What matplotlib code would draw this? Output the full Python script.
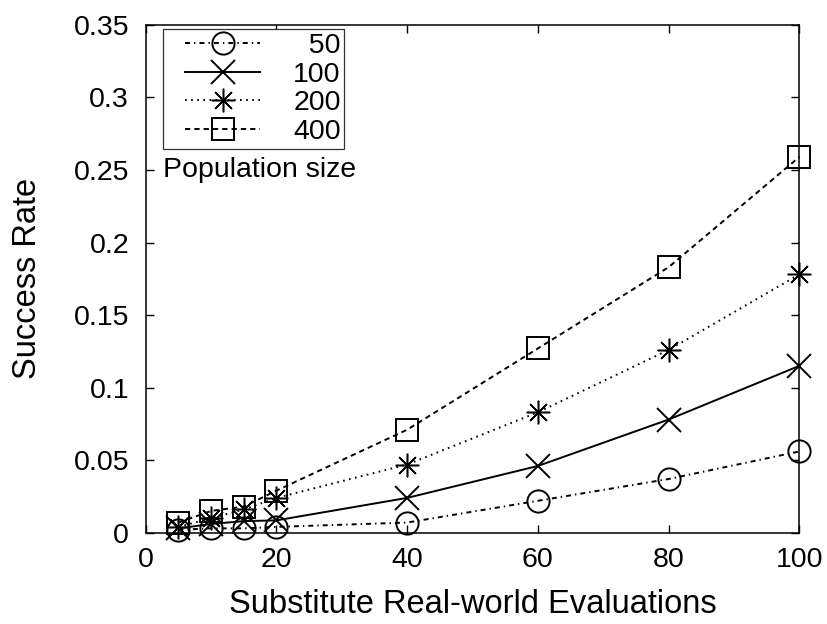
import matplotlib
matplotlib.use("Agg")
import matplotlib.pyplot as plt
from matplotlib.legend_handler import HandlerLine2D

plt.rcParams['font.family'] = ['Liberation Sans', 'DejaVu Sans']
plt.rcParams['lines.scale_dashes'] = False

# Number of substitute real-world evaluations
evaluations = [5, 10, 15, 20, 40, 60, 80, 100]

# Success rate per population size
rate_pop50 = [0.002, 0.003, 0.003, 0.004, 0.007, 0.022, 0.037, 0.056]
rate_pop100 = [0.003, 0.006, 0.008, 0.0085, 0.024, 0.046, 0.078, 0.115]
rate_pop200 = [0.004, 0.010, 0.016, 0.024, 0.047, 0.083, 0.126, 0.178]
rate_pop400 = [0.007, 0.015, 0.018, 0.029, 0.071, 0.127, 0.183, 0.259]

series_labels = ["  50", "100", "200", "400"]
x_ticks = [0, 20, 40, 60, 80, 100]
y_ticks = [0, 0.05, 0.1, 0.15, 0.2, 0.25, 0.3, 0.35]
y_tick_labels = ["0", "0.05", "0.1", "0.15", "0.2", "0.25", "0.3", "0.35"]

TICK_FS = 20.5
LABEL_FS = 23.5

fig = plt.figure(figsize=(8.27, 6.24), dpi=100)
ax = fig.add_axes([0.1762, 0.1463, 0.7903, 0.8137])

lw = 1.4
styles = [
    dict(marker='o', ms=16, mew=1.4, linestyle=(0, (3.6, 2.9, 1.0, 2.9))),
    dict(marker='x', ms=17, mew=1.4, linestyle='-'),
    dict(marker=(8, 2, 0), ms=17, mew=1.1, linestyle=(0, (1.2, 3.2))),
    dict(marker='s', ms=16.5, mew=1.4, linestyle=(0, (3.8, 2.9))),
]
all_rates = [rate_pop50, rate_pop100, rate_pop200, rate_pop400]

for rates, label, st in zip(all_rates, series_labels, styles):
    ax.plot(evaluations, rates, color='black', lw=lw,
            mfc='none', mec='black', label=label, clip_on=False,
            zorder=3, **st)

ax.set_xlim(0, 100)
ax.set_ylim(0, 0.35)
ax.set_xticks(x_ticks)
ax.set_xticklabels([str(v) for v in x_ticks])
ax.set_yticks(y_ticks)
ax.set_yticklabels(y_tick_labels)

ax.tick_params(axis='both', which='both', direction='in', length=5.5,
               width=1.0, labelsize=TICK_FS, top=True, right=True)
ax.tick_params(axis='x', pad=10)
ax.tick_params(axis='y', pad=12)
for sp in ax.spines.values():
    sp.set_linewidth(1.1)

ax.set_xlabel("Substitute Real-world Evaluations", fontsize=LABEL_FS)
ax.set_ylabel("Success Rate", fontsize=LABEL_FS)
ax.xaxis.set_label_coords(0.5, -0.142)
ax.xaxis.label.set_va('center')
ax.yaxis.set_label_coords(-0.1816, 0.5)
ax.yaxis.label.set_va('center')

leg = ax.legend(loc='upper left', bbox_to_anchor=(0.0265, 0.9915),
                borderaxespad=0, fontsize=TICK_FS, handlelength=3.3,
                handletextpad=1.15, labelspacing=0.1, borderpad=0.12,
                fancybox=False, framealpha=1, edgecolor='#333333',
                handler_map={matplotlib.lines.Line2D: HandlerLine2D(xpad=0.65)})
leg.get_frame().set_linewidth(0.9)
leg.set_zorder(5)

ax.text(0.0265, 0.7144, "Population size", transform=ax.transAxes,
        ha='left', va='center', fontsize=TICK_FS)

fig.savefig("out.png", dpi=100)
